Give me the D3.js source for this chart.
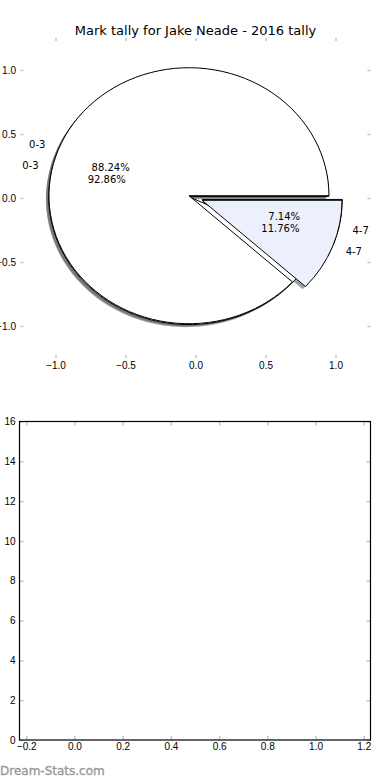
<!DOCTYPE html>
<html>
<head>
<meta charset="utf-8">
<script src="https://cdn.jsdelivr.net/npm/d3@7"></script>
<style>
  html, body { margin: 0; background: #fff; }
  svg { display: block; font-family: "DejaVu Sans", sans-serif; }
</style>
</head>
<body>
<div id="chart"></div>
<script>
// ---- data ----
const chartTitle = "Mark tally for Jake Neade - 2016 tally";
const markBands = ["0-3", "4-7"];
const tallyA = [15, 2]; // 88.24% / 11.76%
const tallyB = [13, 1]; // 92.86% / 7.14%
const pieTicks = [-1.0, -0.5, 0.0, 0.5, 1.0];
const barXTicks = [-0.2, 0.0, 0.2, 0.4, 0.6, 0.8, 1.0, 1.2];
const barYTicks = [0, 2, 4, 6, 8, 10, 12, 14, 16];
const watermark = "Dream-Stats.com";

const width = 390;
const height = 780;

const wedgeFill = ["#ffffff", "#ebf0fc"];
const explode = 0.05;
const shadowOffset = -0.02;
const tickColor = "#c4c4c4";

const svg = d3
  .select("#chart")
  .append("svg")
  .attr("width", width)
  .attr("height", height)
  .attr("viewBox", `0 0 ${width} ${height}`);

// ---- top panel: the pie (matplotlib pie axes, limits ±1.25) ----
const px = d3.scaleLinear().domain([-1.25, 1.25]).range([20.5, 370.5]);
const py = d3.scaleLinear().domain([-1.25, 1.25]).range([358, 38]);
const kx = px(1) - px(0);
const ky = py(0) - py(1);

svg
  .append("text")
  .attr("x", (px.range()[0] + px.range()[1]) / 2)
  .attr("y", 35)
  .attr("text-anchor", "middle")
  .attr("font-size", 13)
  .text(chartTitle);

// ticks only, spines hidden
function innerTicks(g, axis, showLabels) {
  g.call(axis);
  g.select(".domain").remove();
  g.selectAll(".tick line").attr("stroke", tickColor).attr("stroke-width", 1.5);
  g.selectAll(".tick text").attr("fill", "#000");
  if (!showLabels) g.selectAll(".tick text").remove();
}

const fmt1 = d3.format(".1f");

svg.append("g")
  .attr("transform", `translate(0,${py.range()[0]})`)
  .attr("font-size", 10).attr("font-family", null)
  .call((g) => innerTicks(g, d3.axisBottom(px).tickValues(pieTicks).tickFormat(fmt1)
    .tickSizeInner(-3).tickSizeOuter(0).tickPadding(3.5), true));
svg.append("g")
  .attr("transform", `translate(0,${py.range()[1]})`)
  .call((g) => innerTicks(g, d3.axisTop(px).tickValues(pieTicks)
    .tickSizeInner(-3).tickSizeOuter(0), false));
svg.append("g")
  .attr("transform", `translate(${px.range()[0]},0)`)
  .attr("font-size", 10).attr("font-family", null)
  .call((g) => innerTicks(g, d3.axisLeft(py).tickValues(pieTicks).tickFormat(fmt1)
    .tickSizeInner(-3).tickSizeOuter(0).tickPadding(4.5), true));
svg.append("g")
  .attr("transform", `translate(${px.range()[1]},0)`)
  .call((g) => innerTicks(g, d3.axisRight(py).tickValues(pieTicks)
    .tickSizeInner(-3).tickSizeOuter(0), false));

// counter-clockwise from 3 o'clock, like matplotlib's default pie
const pie = d3.pie().sort(null).startAngle(Math.PI / 2).endAngle(Math.PI / 2 - 2 * Math.PI);
const unitArc = d3.arc().innerRadius(0).outerRadius(1);

function layout(values) {
  const total = d3.sum(values);
  return pie(values).map((a, i) => {
    const mid = (a.startAngle + a.endAngle) / 2;
    const dx = Math.sin(mid);
    const dy = Math.cos(mid);
    return { ...a, i, total, dx, dy, cx: explode * dx, cy: explode * dy };
  });
}

const pies = [layout(tallyB), layout(tallyA)]; // B underneath, A on top

const shadowLayer = svg.append("g");
const wedgeLayer = svg.append("g");
const textLayer = svg.append("g").attr("font-size", 10);

pies.forEach((arcs) => {
  shadowLayer
    .selectAll(null)
    .data(arcs)
    .join("path")
    .attr("d", unitArc)
    .attr("transform", (d) =>
      `translate(${px(d.cx + shadowOffset)},${py(d.cy + shadowOffset)}) scale(${kx},${ky})`)
    .attr("fill", (d) => {
      const c = d3.rgb(wedgeFill[d.i]);
      return `rgb(${c.r * 0.3},${c.g * 0.3},${c.b * 0.3})`;
    })
    .attr("fill-opacity", 0.5);

  wedgeLayer
    .selectAll(null)
    .data(arcs)
    .join("path")
    .attr("d", unitArc)
    .attr("transform", (d) => `translate(${px(d.cx)},${py(d.cy)}) scale(${kx},${ky})`)
    .attr("fill", (d) => wedgeFill[d.i])
    .attr("stroke", "#000")
    .attr("stroke-width", 1)
    .attr("stroke-linejoin", "miter")
    .attr("vector-effect", "non-scaling-stroke");

  // band labels at 1.1 r
  textLayer
    .selectAll(null)
    .data(arcs)
    .join("text")
    .attr("x", (d) => px(d.cx + 1.1 * d.dx))
    .attr("y", (d) => py(d.cy + 1.1 * d.dy))
    .attr("dy", "0.35em")
    .attr("text-anchor", (d) => (d.dx > 0 ? "start" : "end"))
    .text((d) => markBands[d.i]);

  // percentages at 0.6 r
  textLayer
    .selectAll(null)
    .data(arcs)
    .join("text")
    .attr("x", (d) => px(d.cx + 0.6 * d.dx))
    .attr("y", (d) => py(d.cy + 0.6 * d.dy))
    .attr("dy", "0.35em")
    .attr("text-anchor", "middle")
    .text((d) => d3.format(".2f")((100 * d.value) / d.total) + "%");
});

// ---- bottom panel: empty framed axes ----
const bx = d3.scaleLinear().domain([-0.228, 1.228]).range([19.5, 370.5]);
const by = d3.scaleLinear().domain([0, 16]).range([740, 421.5]);

svg.append("g")
  .attr("transform", `translate(0,${by.range()[0]})`)
  .attr("font-size", 10).attr("font-family", null)
  .call((g) => innerTicks(g, d3.axisBottom(bx).tickValues(barXTicks).tickFormat(fmt1)
    .tickSizeInner(-4).tickSizeOuter(0).tickPadding(3), true));
svg.append("g")
  .attr("transform", `translate(0,${by.range()[1]})`)
  .call((g) => innerTicks(g, d3.axisTop(bx).tickValues(barXTicks)
    .tickSizeInner(-4).tickSizeOuter(0), false));
svg.append("g")
  .attr("transform", `translate(${bx.range()[0]},0)`)
  .attr("font-size", 10).attr("font-family", null)
  .call((g) => innerTicks(g, d3.axisLeft(by).tickValues(barYTicks).tickFormat(d3.format("d"))
    .tickSizeInner(-4).tickSizeOuter(0).tickPadding(4), true));
svg.append("g")
  .attr("transform", `translate(${bx.range()[1]},0)`)
  .call((g) => innerTicks(g, d3.axisRight(by).tickValues(barYTicks)
    .tickSizeInner(-4).tickSizeOuter(0), false));

svg
  .append("rect")
  .attr("x", bx.range()[0])
  .attr("y", by.range()[1])
  .attr("width", bx.range()[1] - bx.range()[0])
  .attr("height", by.range()[0] - by.range()[1])
  .attr("fill", "none")
  .attr("stroke", "#000")
  .attr("stroke-width", 1.2);

svg
  .append("text")
  .attr("x", 0)
  .attr("y", 775)
  .attr("font-size", 12)
  .attr("fill", "#999")
  .attr("stroke", "#999")
  .attr("stroke-width", 0.35)
  .text(watermark);
</script>
</body>
</html>
